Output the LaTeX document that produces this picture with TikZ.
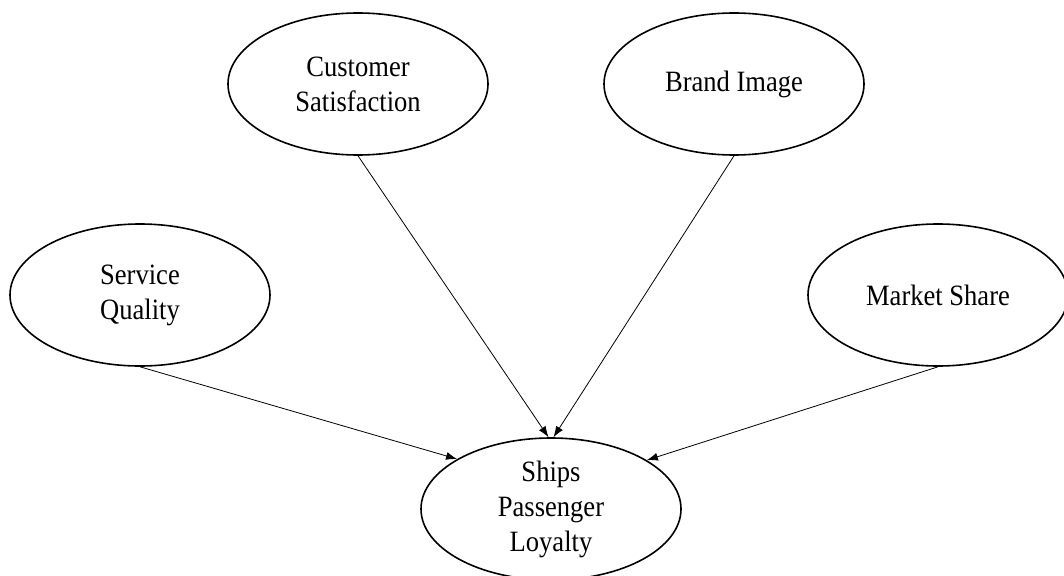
\documentclass[tikz,border=0pt]{standalone}
\usepackage{fontspec}
\setmainfont{Liberation Serif}[FakeStretch=0.9]
\usetikzlibrary{shapes.geometric,arrows.meta}
\begin{document}
\begin{tikzpicture}[x=1pt,y=-1pt,
  factor/.style={ellipse,draw,line width=1.6pt,minimum width=260pt,minimum height=142pt,
    inner sep=0pt,align=center,font=\fontsize{29.5}{35}\selectfont},
  link/.style={line width=0.8pt,-{Latex[length=11pt,width=8pt]}}]
\useasboundingbox (0,0) rectangle (1064,575);
\node[factor] (cs)  at (358,84)  {Customer\\Satisfaction};
\node[factor] (bi)  at (734,84)  {Brand Image};
\node[factor] (sq)  at (140,295) {Service\\Quality};
\node[factor] (ms)  at (938,295) {Market Share};
\node[factor] (spl) at (551,509) {Ships\\Passenger\\Loyalty};
\draw[link] (cs.south) -- (spl.92);
\draw[link] (bi.south) -- (spl.88);
\draw[link] (sq.south) -- (spl.152);
\draw[link] (ms.south) -- (spl.27);
\end{tikzpicture}
\end{document}
